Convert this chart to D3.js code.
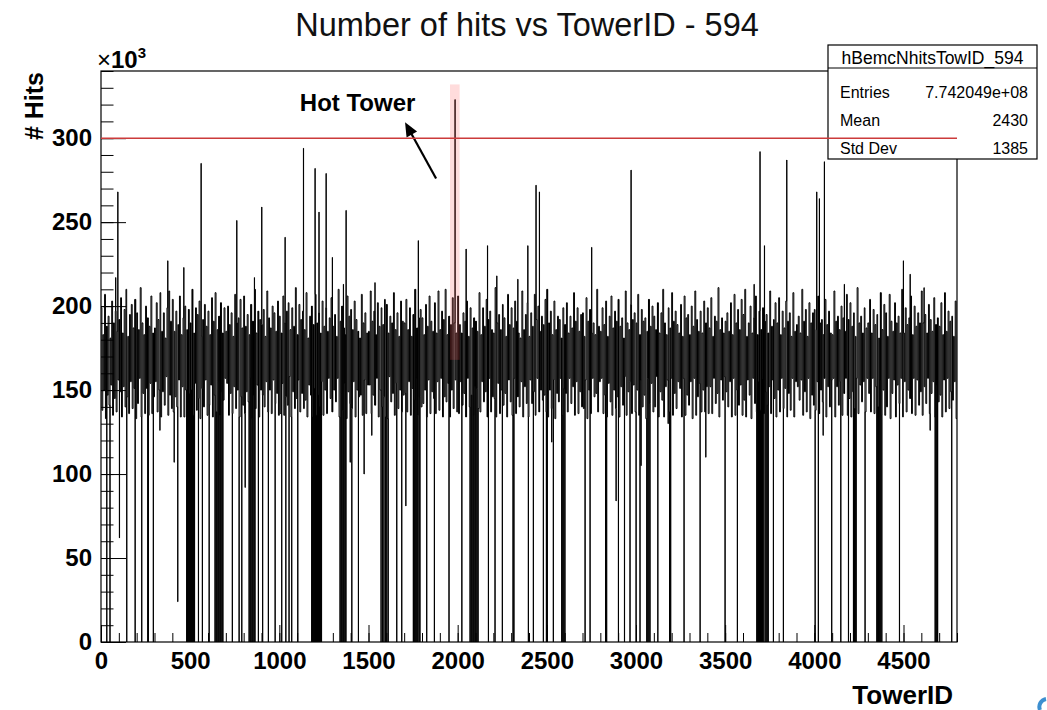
<!DOCTYPE html>
<html><head><meta charset="utf-8">
<script src="https://cdn.jsdelivr.net/npm/d3@7"></script>
<style>
body{margin:0;background:#fff}
svg{display:block}
text{font-family:"Liberation Sans",Arial,Helvetica,sans-serif}
</style>
</head><body>
<svg id="chart" width="1047" height="710"></svg>
<script>
// ---------------- data (hits in units of 10^3) ----------------
const nTowers = 4800;
const blockSize = 10; // towers per block; each block read as its max then its min
const blockMax = [
199,183,207,188,194,181,203,190,197,185,
192,205,184,198,210,182,195,201,187,204,
196,186,211,190,183,200,193,188,206,184,
187,202,192,208,185,196,181,199,209,191,
204,185,197,189,206,183,193,200,186,198,
190,210,184,199,195,203,182,192,201,188,
197,183,205,191,208,186,194,202,184,199,
185,200,189,196,182,207,190,193,204,187,
206,188,195,183,201,191,210,184,197,192,
189,198,182,209,193,187,200,196,185,203,
194,184,206,190,197,202,186,199,188,211,
183,201,192,197,186,208,181,194,200,189,
207,190,196,184,203,188,199,185,193,205,
188,195,182,210,191,200,187,183,206,194,
198,186,203,192,185,181,207,190,196,184,
185,209,191,197,183,202,188,199,189,204,
201,184,194,190,208,186,196,182,203,191,
190,204,186,199,182,195,210,187,193,198,
193,183,201,188,206,191,185,202,184,209,
186,197,192,210,183,194,189,205,190,184,
206,189,184,196,191,203,182,199,187,193,
191,185,208,183,199,188,204,192,197,186,
184,211,190,195,186,201,193,182,207,189,
199,187,203,191,184,181,209,186,195,202,
182,196,188,207,192,200,185,194,189,204,
210,190,197,183,203,186,194,192,181,199,
189,202,184,194,187,208,191,199,185,195,
196,182,205,191,198,184,190,183,210,188,
185,199,189,203,182,194,206,187,197,191,
204,188,193,181,209,190,186,201,192,196,
190,207,183,198,191,193,185,204,188,200,
194,186,202,184,196,210,190,183,199,187,
208,191,197,189,184,201,182,206,193,195,
183,200,188,209,192,185,197,184,203,190,
199,187,205,182,194,191,211,186,193,184,
191,196,185,202,183,207,190,198,186,204,
195,210,182,190,200,184,193,206,183,197,
186,199,191,195,184,209,188,192,202,190,
205,183,197,187,203,191,196,182,208,185,
189,194,184,210,191,198,182,202,190,196,
198,186,206,190,192,183,204,189,197,184,
183,209,191,194,186,200,193,185,207,192,
202,188,196,182,211,190,194,184,199,187,
190,204,184,198,189,195,181,208,186,201,
196,182,207,191,185,202,190,194,184,210,
184,199,189,193,206,183,200,188,196,190,
209,190,195,184,201,192,185,205,189,193,
188,202,183,208,185,197,191,194,182,203
];
const blockMin = [
138,150,133,147,141,153,135,145,137,156,
149,134,152,140,146,136,155,139,151,133,
142,157,134,148,136,151,135,154,136,146,
155,137,150,134,149,141,158,135,147,139,
137,146,140,156,134,152,134,150,143,148,
150,135,154,138,145,133,151,140,156,135,
141,153,134,147,137,155,135,149,144,157,
154,135,148,136,152,139,150,134,146,141,
136,149,143,157,133,147,139,153,134,150,
147,140,155,137,150,136,156,142,148,135,
136,154,135,146,141,158,134,149,139,145,
156,137,148,139,144,134,153,147,134,151,
135,147,140,155,135,150,136,157,145,137,
150,143,157,134,148,138,154,133,149,142,
139,155,134,150,146,147,135,156,136,153,
153,136,147,141,157,134,150,140,146,134,
133,158,143,148,135,154,139,150,137,147,
148,137,155,135,151,144,157,135,146,140,
142,150,134,156,136,149,145,136,155,138,
157,134,146,143,154,134,150,139,156,137,
136,155,141,148,134,157,140,147,135,152,
151,139,137,155,143,149,134,157,137,146,
145,134,154,136,150,141,148,134,156,143,
135,157,136,146,140,155,134,152,142,134,
156,142,149,135,157,137,150,144,147,137,
134,150,139,156,133,148,143,157,135,151,
148,137,157,142,152,135,155,136,149,140,
139,156,133,150,136,157,146,148,137,155,
157,136,147,134,154,143,135,150,139,146,
134,152,141,158,135,149,155,136,153,137,
150,135,156,140,147,133,157,142,154,137,
140,158,134,149,144,134,152,156,137,157,
135,148,139,155,151,134,157,135,147,141,
155,133,157,135,146,154,137,150,137,152,
136,152,136,157,142,148,134,156,144,158,
149,140,155,134,157,135,150,141,153,135,
144,134,156,147,133,157,142,137,155,138,
157,136,149,141,152,136,156,145,134,150,
137,157,139,151,134,148,138,157,134,155,
152,144,156,135,149,137,157,133,147,141,
138,155,136,150,143,157,134,152,140,156,
157,134,152,141,155,135,148,157,135,145,
134,149,139,157,136,153,143,155,137,157,
148,137,157,136,152,140,156,135,150,135,
140,157,133,148,156,134,153,142,157,134,
155,137,150,145,136,157,135,156,141,149,
135,152,142,157,136,148,155,134,153,143,
147,134,156,137,157,139,149,144,155,133
];
const deadTowers = [32,50,144,191,228,262,265,293,
480,485,491,496,502,507,513,518,524,546,568,606,
639,645,650,656,661,667,672,678,683,736,774,789,
830,836,841,847,852,858,863,882,906,938,976,1013,1036,1054,1069,1103,
1181,1186,1192,1197,1203,1208,1214,1219,1225,1230,1236,
1340,1346,1351,1357,1362,1368,1373,1406,1443,
1570,1578,1586,1594,1602,1610,1658,1686,
1751,1756,1761,1766,1771,1776,1783,1788,1826,1869,1951,2023,
2069,2075,2080,2086,2091,2097,2102,2108,2114,2172,2209,2250,2310,2315,2396,
2424,2480,2497,2502,2536,2583,2589,2595,2601,2714,2742,2829,2835,
2901,2935,2966,3000,3022,3060,3066,3072,3078,3122,3188,3194,3269,3359,3499,3568,
3677,3682,3687,3692,3698,3703,3708,3713,3723,3729,3735,3741,3770,3826,
4004,4022,4097,4148,4191,4219,4224,4229,4234,4284,
4350,4355,4360,4366,4372,4378,4477,4677,4682,4687,4691,4770];
const lowTowers = [103,330,410,430,808,1397,1475,1518,1709,2527,2888,3028,3180,3391,4049,4649];
const lowValues = [62,126,107,24,92,107,100,123,81,119,84,105,130,110,123,126];
const spikeTowers = [82,94,374,464,561,761,860,901,1032,1135,1200,1222,1262,1297,1359,1374,1536,1779,
2047,2167,2219,2337,2393,2439,2458,2751,2972,3662,3695,3720,3845,4013,4028,4056,4168,4499,4537,4615];
const spikeValues = [217,268,227,223,285,251,217,259,241,294,282,256,279,229,213,257,214,239,
234,236,218,216,236,272,268,235,281,213,292,236,287,268,264,286,213,227,219,211];
const hotTower = 1985, hotValue = 323;
const threshold = 300;

const xTickValues = [0,500,1000,1500,2000,2500,3000,3500,4000,4500];
const yTickValues = [0,50,100,150,200,250,300];
const statsTitle = "hBemcNhitsTowID_594";
const statsLabels = ["Entries","Mean","Std Dev"];
const statsValues = ["7.742049e+08","2430","1385"];
const titleText = "Number of hits vs TowerID - 594";

// ---------------- build histogram bins ----------------
const bins = new Array(nTowers);
for (let t = 0; t < nTowers; t++) {
  const b = Math.floor(t / blockSize);
  bins[t] = (t % blockSize) < blockSize / 2 ? blockMax[b] : blockMin[b];
}
deadTowers.forEach(t => bins[t] = 0);
lowTowers.forEach((t, i) => bins[t] = lowValues[i]);
spikeTowers.forEach((t, i) => bins[t] = spikeValues[i]);
bins[hotTower] = hotValue;

const pts = [];
for (let t = 0; t < nTowers; t++) {
  if (t === 0 || bins[t] !== bins[t - 1]) pts.push([t, bins[t]]);
}
pts.push([nTowers, bins[nTowers - 1]]);

// ---------------- layout ----------------
const L = 101, R = 957, T = 71, B = 642;
const x = d3.scaleLinear().domain([0, nTowers]).range([L, R]);
const y = d3.scaleLinear().domain([0, 340]).range([B, T]);

const svg = d3.select("#chart");
svg.append("rect").attr("width",1047).attr("height",710).attr("fill","#fff");
svg.append("defs").append("clipPath").attr("id","plot")
  .append("rect").attr("x",L).attr("y",T).attr("width",R-L).attr("height",B-T);

// title
svg.append("text").attr("x",527).attr("y",36).attr("text-anchor","middle")
  .attr("font-size",32.5).attr("fill","#111").text(titleText);

// histogram
const line = d3.line().x(d => x(d[0])).y(d => y(d[1])).curve(d3.curveStepAfter);
svg.append("path").attr("clip-path","url(#plot)").attr("d", line(pts))
  .attr("fill","none").attr("stroke","#000").attr("stroke-width",1);

// hot tower highlight band
svg.append("rect")
  .attr("x", x(hotTower - 28)).attr("width", x(hotTower + 26) - x(hotTower - 28))
  .attr("y", y(332)).attr("height", y(168) - y(332))
  .attr("fill","#ff5050").attr("opacity",0.2);

// axes ticks
const g = svg.append("g");
g.append("g").attr("transform",`translate(0,${B})`)
  .call(d3.axisBottom(x).tickValues(d3.range(0, nTowers + 1, 100)).tickSize(-9).tickFormat(""))
  .call(a => a.select(".domain").remove());
g.append("g").attr("transform",`translate(0,${B})`)
  .call(d3.axisBottom(x).tickValues(xTickValues).tickSize(-17).tickPadding(10).tickFormat(d3.format("d")))
  .call(a => a.select(".domain").remove())
  .call(a => a.selectAll("text").attr("font-size",24).attr("font-weight","bold")
     .attr("font-family","'Liberation Sans',Arial,sans-serif").attr("fill","#000"));
g.append("g").attr("transform",`translate(${L},0)`)
  .call(d3.axisLeft(y).tickValues(d3.range(0, 341, 10)).tickSize(-12.5).tickFormat(""))
  .call(a => a.select(".domain").remove());
g.append("g").attr("transform",`translate(${L},0)`)
  .call(d3.axisLeft(y).tickValues(yTickValues).tickSize(-25).tickPadding(9).tickFormat(d3.format("d")))
  .call(a => a.select(".domain").remove())
  .call(a => a.selectAll("text").attr("font-size",24).attr("font-weight","bold")
     .attr("font-family","'Liberation Sans',Arial,sans-serif").attr("fill","#000"));
g.selectAll(".tick line").attr("stroke","#000").attr("stroke-width",1);

// frame
svg.append("rect").attr("x",L).attr("y",T).attr("width",R-L).attr("height",B-T)
  .attr("fill","none").attr("stroke","#000").attr("stroke-width",1.2);

// x10^3
const e = svg.append("text").attr("x",97).attr("y",68).attr("font-size",24);
e.append("tspan").text("×");
e.append("tspan").attr("font-weight","bold").text("10");
e.append("tspan").attr("font-size",15).attr("dy",-10).attr("font-weight","bold").text("3");

// axis titles
svg.append("text").attr("transform",`translate(43,${T + 1}) rotate(-90)`)
  .attr("text-anchor","end").attr("font-size",25).attr("font-weight","bold").text("# Hits");
svg.append("text").attr("x",953).attr("y",704).attr("text-anchor","end")
  .attr("font-size",26).attr("font-weight","bold").text("TowerID");

// annotation
svg.append("text").attr("x", x(1115)).attr("y", y(316)).attr("font-size",24)
  .attr("font-weight","bold").text("Hot Tower");
const ax0 = x(1879), ay0 = y(276), ax1 = x(1705), ay1 = y(309.5);
const ang = Math.atan2(ay1 - ay0, ax1 - ax0);
svg.append("line").attr("x1",ax0).attr("y1",ay0)
  .attr("x2",ax1 - 8*Math.cos(ang)).attr("y2",ay1 - 8*Math.sin(ang))
  .attr("stroke","#000").attr("stroke-width",2.2);
const hl = 14, hw = 6;
const bx = ax1 - hl*Math.cos(ang), by = ay1 - hl*Math.sin(ang);
svg.append("path").attr("d",
  `M${ax1},${ay1}L${bx + hw*Math.sin(ang)},${by - hw*Math.cos(ang)}L${bx - hw*Math.sin(ang)},${by + hw*Math.cos(ang)}Z`)
  .attr("fill","#000");

// stats box
const sb = svg.append("g");
sb.append("rect").attr("x",828).attr("y",45).attr("width",209).attr("height",114)
  .attr("fill","#fff").attr("stroke","#000").attr("stroke-width",1.2);
sb.append("line").attr("x1",828).attr("x2",1037).attr("y1",68).attr("y2",68).attr("stroke","#000");
sb.append("text").attr("x",932.5).attr("y",64).attr("text-anchor","middle").attr("font-size",17.5).text(statsTitle);
statsLabels.forEach((lab, i) => {
  const yy = 97.5 + i * 28;
  sb.append("text").attr("x",840).attr("y",yy).attr("font-size",16).text(lab);
  sb.append("text").attr("x",1028).attr("y",yy).attr("text-anchor","end").attr("font-size",16).text(statsValues[i]);
});

// threshold line
svg.append("line").attr("x1",L).attr("x2",R).attr("y1",y(threshold)).attr("y2",y(threshold))
  .attr("stroke","#cc3b3b").attr("stroke-width",1.6);

// corner logo fragment
svg.append("path").attr("d","M1046,699 A8,8 0 0,0 1040,710").attr("fill","none")
  .attr("stroke","#3d8fd0").attr("stroke-width",4);
</script>
</body></html>
